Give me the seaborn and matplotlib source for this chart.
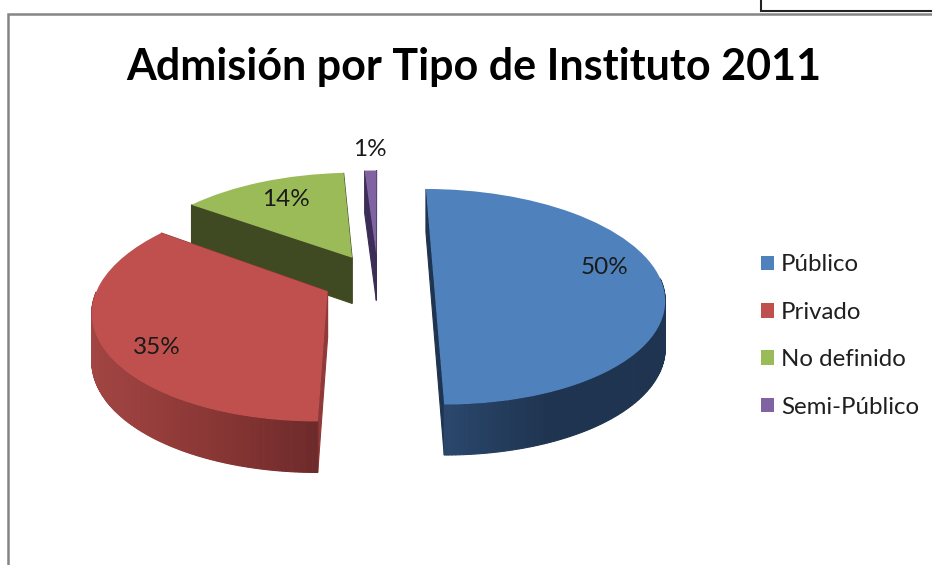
"""Admisión por Tipo de Instituto 2011: exploded pie with fake 3D depth."""

import matplotlib.pyplot as plt
import matplotlib.transforms as mtransforms
import numpy as np
import seaborn as sns

categories = ["Público", "Privado", "No definido", "Semi-Público"]
values = [50, 35, 14, 1]

TOP_COLORS = ["#4F81BD", "#C0504D", "#9BBB59", "#8064A2"]
SIDE_STOPS = [
    ["#2c4a70", "#1f3450", "#1f3450"],
    ["#a24543", "#8a3735", "#6a2929"],
    ["#3f4a22", "#3f4a22", "#3f4a22"],
    ["#3b2c58", "#3b2c58", "#3b2c58"],
]
CUT_COLORS = ["#1f3450", "#8f3a38", "#3f4a22", "#3b2c58"]
PCT_POS = [(605, 268), (157, 347), (286, 200), (370, 150)]
DRAW_ORDER = [3, 2, 1, 0]

# projection of the unit pie onto the page, in pixels
CX, CY, SX, SY, PERSP = 378.0, 279.5, 227.0, 105.0, 0.16
EXPLODE = 0.245


def project(xy):
    xy = np.asarray(xy, dtype=float)
    w = 1 + PERSP * xy[:, 1]
    return np.column_stack([CX + SX * xy[:, 0] / w, CY - SY * xy[:, 1] / w])


def depth(xy):
    return 46.5 / (1 + 0.08 * np.asarray(xy)[:, 1])


class Perspective(mtransforms.Transform):
    input_dims = 2
    output_dims = 2

    def transform_non_affine(self, values):
        return project(values)


sns.set_theme(style="white")
plt.rcParams["font.family"] = ["Lato", "DejaVu Sans"]

fig = plt.figure(figsize=(9.32, 5.65), dpi=100)
ax = fig.add_axes([0, 0, 1, 1])

wedges, _, pct_texts = ax.pie(
    values,
    explode=[EXPLODE] * len(values),
    colors=TOP_COLORS,
    startangle=90,
    counterclock=False,
    autopct="%.0f%%",
    wedgeprops={"linewidth": 0},
)

ax.set_aspect("auto")
ax.set_xlim(0, 932)
ax.set_ylim(565, 0)
ax.axis("off")

persp = Perspective()
for order, i in enumerate(DRAW_ORDER):
    wedge = wedges[i]
    base_z = 2 + order * 3
    wedge.set_transform(persp + ax.transData)
    wedge.set_zorder(base_z + 2)
    wedge.set_clip_on(False)

    # outline of the slice, kept in pie coordinates
    theta = np.radians(np.linspace(wedge.theta1, wedge.theta2, 220))
    cx, cy = wedge.center
    arc = np.column_stack([cx + wedge.r * np.cos(theta), cy + wedge.r * np.sin(theta)])
    outline = np.vstack([[wedge.center], arc, [wedge.center]])
    top = project(outline)
    bottom = top + np.column_stack([np.zeros(len(top)), depth(outline)])

    ramp = sns.blend_palette(SIDE_STOPS[i], n_colors=256)
    x_lo, x_hi = top[:, 0].min(), top[:, 0].max()
    quads = []
    for j in range(len(top) - 1):
        quad = [top[j], top[j + 1], bottom[j + 1], bottom[j]]
        is_cut = j == 0 or j == len(top) - 2
        if is_cut:
            color = CUT_COLORS[i]
        elif np.sin(theta[j - 1]) > 0:
            continue  # back of the rim, hidden by the top face
        else:
            frac = (top[j, 0] - x_lo) / max(x_hi - x_lo, 1)
            color = ramp[int(frac * 255)]
        quads.append((top[j : j + 2, 1].mean(), quad, color))
    quads.sort(key=lambda q: q[0])
    for _, quad, color in quads:
        ax.fill(*zip(*quad), color=color, lw=0.8, zorder=base_z + 1, clip_on=False)

for text, pos in zip(pct_texts, PCT_POS):
    text.set_position(pos)
    text.set_ha("center")
    text.set_va("center")
    text.set_fontsize(17.5)
    text.set_color("#1a1a1a")
    text.set_zorder(30)

ax.legend(
    wedges,
    categories,
    loc="center left",
    bbox_to_anchor=(761 / 932, 1 - 336 / 565),
    frameon=False,
    fontsize=17.3,
    handlelength=0.55,
    handleheight=0.55,
    handletextpad=0.29,
    labelspacing=1.1,
    labelcolor="#1f1f1f",
    borderpad=0,
    borderaxespad=0,
)

ax.text(474, 67, "Admisión por Tipo de Instituto 2011", ha="center", va="center",
        fontsize=31, fontweight="bold", color="black")

# page frame and the corner of the box above it
ax.plot([8, 8, 932], [565, 14, 14], color="#858585", lw=1.8, solid_joinstyle="miter", zorder=1)
ax.plot([761, 761, 932], [0, 11, 11], color="#222222", lw=1.5, solid_joinstyle="miter", zorder=1)

fig.savefig("out.png", dpi=100, facecolor="white")
